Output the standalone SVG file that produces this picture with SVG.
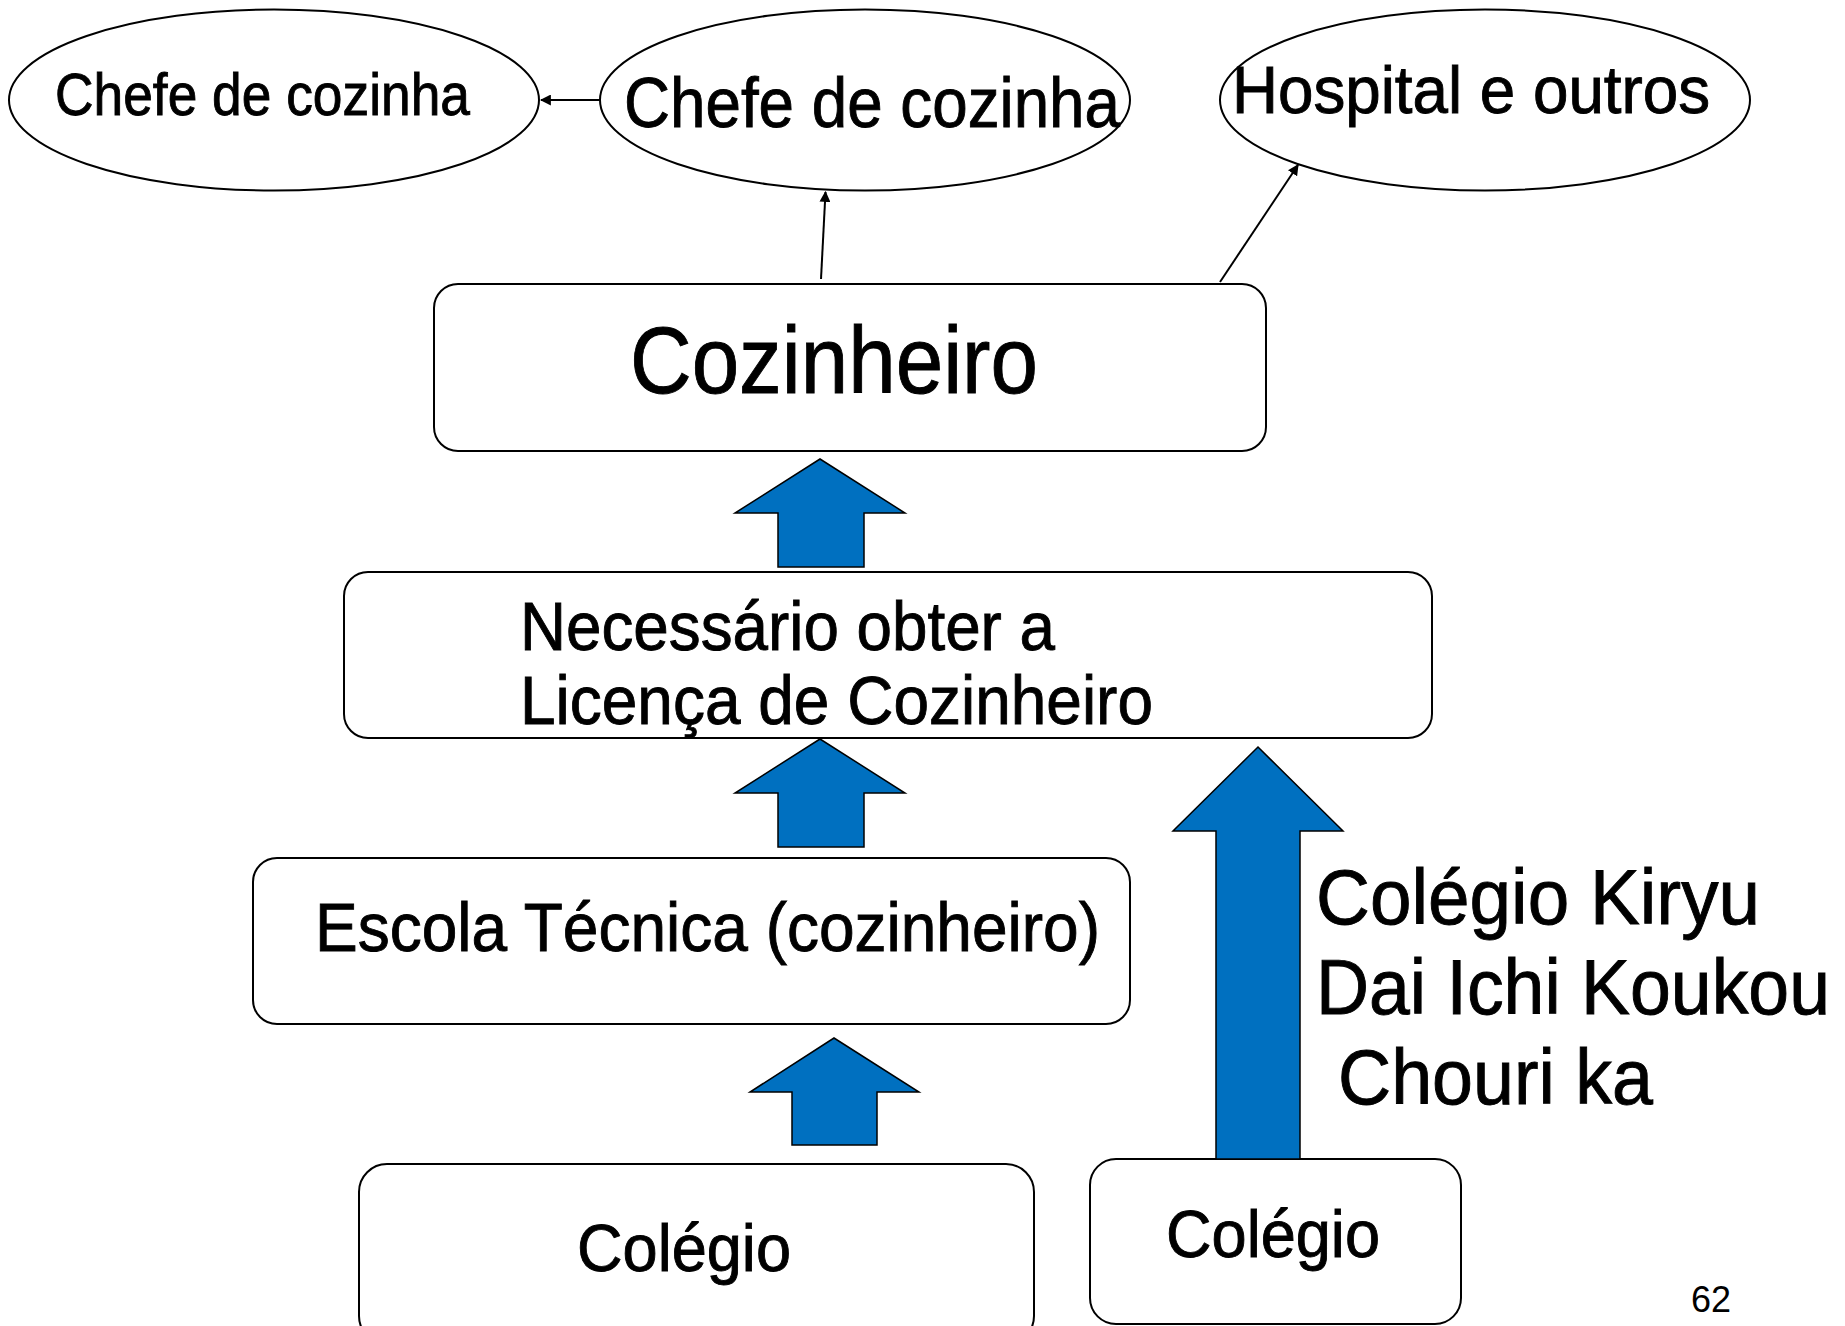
<svg xmlns="http://www.w3.org/2000/svg" width="1845" height="1326" viewBox="0 0 1845 1326">
<style>
.shape{fill:#ffffff;stroke:#000000;stroke-width:2}
.t{font-family:"Liberation Sans",Arial,sans-serif;fill:#000000;stroke:#000000;stroke-width:0.9}
.blue{fill:#0070C0;stroke:#000000;stroke-width:1.5}
.conn{stroke:#000000;stroke-width:2;fill:none}
</style>
<defs>
<marker id="ah" viewBox="0 0 10 10" refX="9" refY="5" markerWidth="11" markerHeight="11" markerUnits="userSpaceOnUse" orient="auto">
<path d="M0,0 L10,5 L0,10 z" fill="#000000"/>
</marker>
</defs>
<rect width="1845" height="1326" fill="#ffffff"/>

<g id="chefe1">
<ellipse class="shape" cx="274" cy="100" rx="265" ry="90.5"/>
<text class="t" x="55" y="115" font-size="59" textLength="415" lengthAdjust="spacingAndGlyphs">Chefe de cozinha</text>
</g>
<g id="chefe2">
<ellipse class="shape" cx="865" cy="100" rx="265" ry="90.5"/>
<text class="t" x="624" y="127" font-size="70" textLength="496" lengthAdjust="spacingAndGlyphs">Chefe de cozinha</text>
</g>
<g id="hospital">
<ellipse class="shape" cx="1485" cy="100" rx="265" ry="90.5"/>
<text class="t" x="1232" y="113" font-size="67" textLength="478" lengthAdjust="spacingAndGlyphs">Hospital e outros</text>
</g>

<g id="cozinheiro">
<rect class="shape" x="434" y="284" width="832" height="167" rx="24"/>
<text class="t" x="630" y="393" font-size="94" textLength="408" lengthAdjust="spacingAndGlyphs">Cozinheiro</text>
</g>

<g id="licenca">
<rect class="shape" x="344" y="572" width="1088" height="166" rx="24"/>
<text class="t" x="520" y="650" font-size="69" textLength="535" lengthAdjust="spacingAndGlyphs">Necessário obter a</text>
<text class="t" x="520" y="724" font-size="69" textLength="633" lengthAdjust="spacingAndGlyphs">Licença de Cozinheiro</text>
</g>

<g id="escola">
<rect class="shape" x="253" y="858" width="877" height="166" rx="24"/>
<text class="t" x="315" y="951" font-size="69" textLength="785" lengthAdjust="spacingAndGlyphs">Escola Técnica (cozinheiro)</text>
</g>

<g id="colegio1">
<rect class="shape" x="359" y="1164" width="675" height="180" rx="28"/>
<text class="t" x="577" y="1271" font-size="66" textLength="214" lengthAdjust="spacingAndGlyphs">Colégio</text>
</g>

<g id="colegio2">
<rect class="shape" x="1090" y="1159" width="371" height="165" rx="26"/>
<text class="t" x="1166" y="1257" font-size="66" textLength="214" lengthAdjust="spacingAndGlyphs">Colégio</text>
</g>

<g id="kiryu-label">
<text class="t" x="1316" y="924" font-size="77" textLength="444" lengthAdjust="spacingAndGlyphs">Colégio Kiryu</text>
<text class="t" x="1316" y="1014" font-size="77" textLength="514" lengthAdjust="spacingAndGlyphs">Dai Ichi Koukou</text>
<text class="t" x="1338" y="1104" font-size="77" textLength="315" lengthAdjust="spacingAndGlyphs">Chouri ka</text>
</g>

<g id="page-number">
<text x="1691" y="1312" font-size="36" font-family="Liberation Sans, Arial, sans-serif" fill="#000000">62</text>
</g>

<g id="connectors">
<line class="conn" x1="600" y1="100" x2="541" y2="100" marker-end="url(#ah)"/>
<line class="conn" x1="821" y1="279" x2="825.5" y2="192" marker-end="url(#ah)"/>
<line class="conn" x1="1220" y1="282" x2="1298" y2="165" marker-end="url(#ah)"/>
<path class="blue" d="M820,459 L905,513 L864,513 L864,567 L778,567 L778,513 L735,513 Z"/>
<path class="blue" d="M820,739 L905,793 L864,793 L864,847 L778,847 L778,793 L735,793 Z"/>
<path class="blue" d="M834,1038 L919,1092 L877,1092 L877,1145 L792,1145 L792,1092 L750,1092 Z"/>
<path class="blue" d="M1258,747 L1343,831 L1300,831 L1300,1159 L1216,1159 L1216,831 L1173,831 Z"/>
</g>
</svg>
